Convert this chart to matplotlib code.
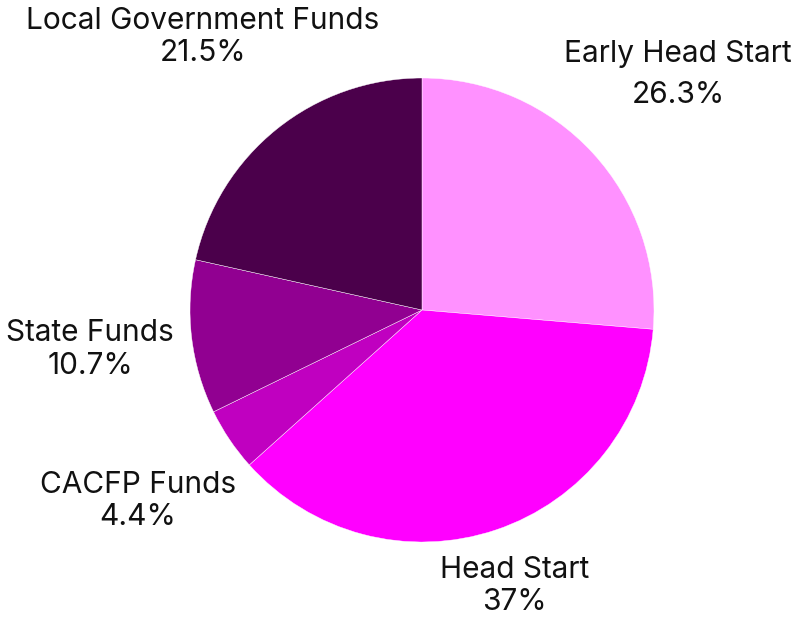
import numpy as np
import matplotlib
matplotlib.use("Agg")
import matplotlib.pyplot as plt

categories = ["Early Head Start", "Head Start", "CACFP Funds", "State Funds", "Local Government Funds"]
values = [26.3, 37.0, 4.4, 10.7, 21.5]
pct_labels = ["26.3%", "37%", "4.4%", "10.7%", "21.5%"]
colors = ["#FF91FF", "#FF00FF", "#C000C0", "#910091", "#4B004B"]

label_dist = [1.50, 1.255, 1.475, 1.44, 1.51]
line_spacing = [1.6, 1.18, 1.18, 1.22, 1.18]

plt.rcParams['font.family'] = ['Inter', 'DejaVu Sans']

W, H = 798, 620
fig = plt.figure(figsize=(W / 100, H / 100), dpi=100)
ax = fig.add_axes([0, 0, 1, 1])
R = 232.0
cx, cy = 422.0, 310.0

wedges, _ = ax.pie(values, colors=colors, startangle=90, counterclock=False,
                   radius=1.0, center=(0, 0),
                   wedgeprops=dict(edgecolor='white', linewidth=0.3))
ax.set_xlim(-cx / R, (W - cx) / R)
ax.set_ylim(-(H - cy) / R, cy / R)
ax.axis('off')

for w, name, pct, d, ls in zip(wedges, categories, pct_labels, label_dist, line_spacing):
    ang = np.deg2rad((w.theta1 + w.theta2) / 2)
    x, y = d * np.cos(ang), d * np.sin(ang)
    ax.text(x, y, f"{name}\n{pct}", ha='center', va='center', fontsize=21.5,
            linespacing=ls, color='#111111')

fig.savefig("out.png", dpi=100)
